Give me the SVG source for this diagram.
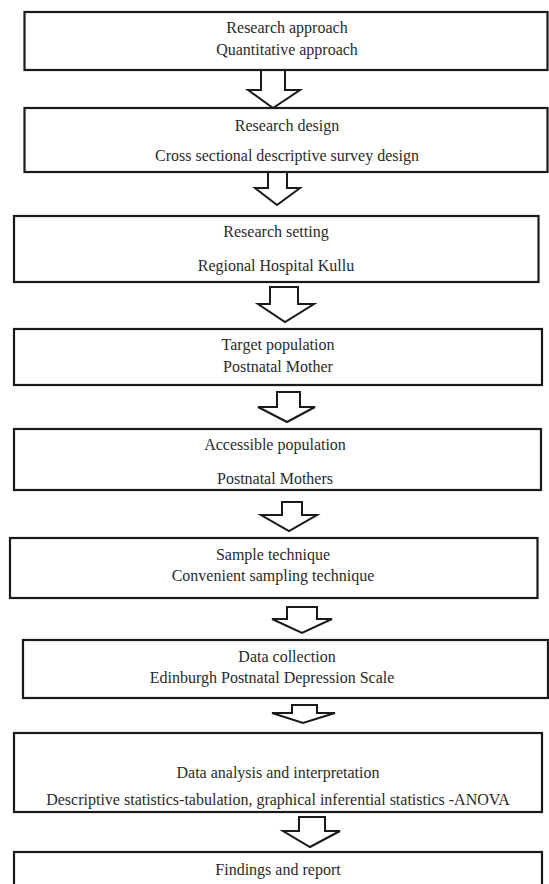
<svg xmlns="http://www.w3.org/2000/svg" width="549" height="884" viewBox="0 0 549 884">
<style>
.box{fill:#fff;stroke:#1a1a1a;stroke-width:2.2}
.arr{fill:#fff;stroke:#1a1a1a;stroke-width:2;stroke-linejoin:miter}
text{font-family:"Liberation Serif","Times New Roman",serif;font-size:16px;fill:#2a2a2a;text-anchor:middle}
</style>
<rect width="549" height="884" fill="#fff"/>
<g id="connectors">
<polygon class="arr" points="261,70 285,70 285,90 300,90 273,108 248,90 261,90"/>
<polygon class="arr" points="268,172 287,172 287,188 300,188 277,205 255,188 268,188"/>
<polygon class="arr" points="270,287 298,287 298,304 314,304 285,322 258,304 270,304"/>
<polygon class="arr" points="277,392 300,392 300,407 315,407 287,422 258,407 277,407"/>
<polygon class="arr" points="282,502 302,502 302,515 317,515 289,531 261,515 282,515"/>
<polygon class="arr" points="287,607 317,607 317,619 332,619 302,633 272,619 287,619"/>
<polygon class="arr" points="292,705 317,705 317,713 335,713 303,723 272,713 292,713"/>
<polygon class="arr" points="299,817 325,817 325,831 340,831 310,847 283,831 299,831"/>
</g>
<g id="n1"><rect class="box" x="24.5" y="12" width="523" height="58"/>
<text x="287" y="33">Research approach</text><text x="287" y="55">Quantitative approach</text></g>
<g id="n2"><rect class="box" x="24.5" y="108" width="523" height="64"/>
<text x="287" y="131">Research design</text><text x="287" y="161">Cross sectional descriptive survey design</text></g>
<g id="n3"><rect class="box" x="14" y="216" width="524.5" height="66"/>
<text x="276" y="237">Research setting</text><text x="276" y="271">Regional Hospital Kullu</text></g>
<g id="n4"><rect class="box" x="14" y="329" width="528" height="56"/>
<text x="278" y="350">Target population</text><text x="278" y="372">Postnatal Mother</text></g>
<g id="n5"><rect class="box" x="14" y="429" width="527" height="61"/>
<text x="275" y="450">Accessible population</text><text x="275" y="484">Postnatal Mothers</text></g>
<g id="n6"><rect class="box" x="10" y="538" width="527.5" height="60"/>
<text x="273" y="560">Sample technique</text><text x="273" y="581">Convenient sampling technique</text></g>
<g id="n7"><rect class="box" x="23" y="640" width="525" height="58"/>
<text x="287" y="662">Data collection</text><text x="272" y="683">Edinburgh Postnatal Depression Scale</text></g>
<g id="n8"><rect class="box" x="14" y="733" width="528" height="79"/>
<text x="278" y="778">Data analysis and interpretation</text><text x="278" y="805">Descriptive statistics-tabulation, graphical inferential statistics -ANOVA</text></g>
<g id="n9"><rect class="box" x="14" y="852" width="528" height="50"/>
<text x="278" y="875">Findings and report</text></g>
</svg>
